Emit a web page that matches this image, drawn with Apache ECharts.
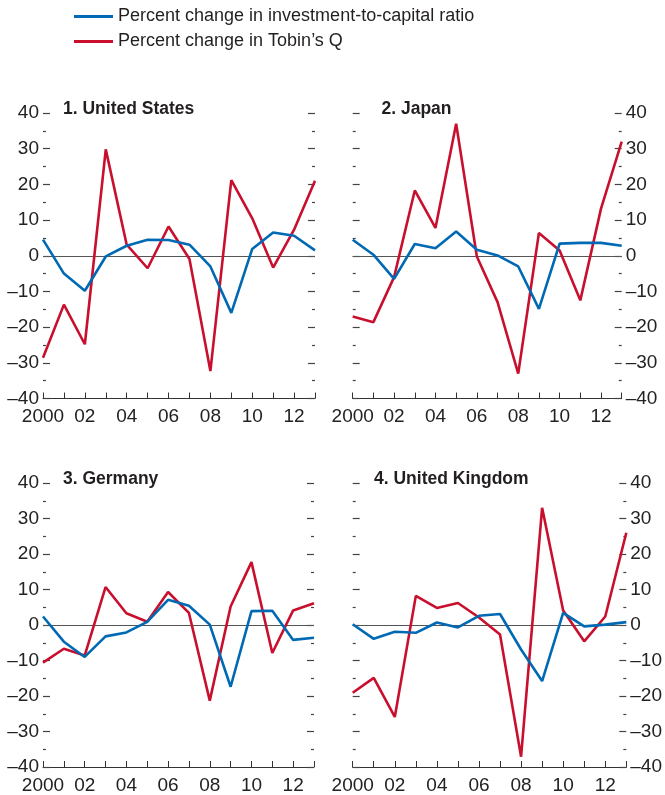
<!DOCTYPE html>
<html>
<head>
<meta charset="utf-8">
<script src="https://cdn.jsdelivr.net/npm/echarts@6/dist/echarts.min.js"></script>
<style>
html,body{margin:0;padding:0;background:#fff;}
#chart{width:665px;height:795px;}
</style>
</head>
<body>
<div id="chart"></div>
<script>
// ---- data ----
const years = [2000,2001,2002,2003,2004,2005,2006,2007,2008,2009,2010,2011,2012,2013];
const xTickLabels = {2000:'2000',2002:'02',2004:'04',2006:'06',2008:'08',2010:'10',2012:'12'};
const seriesNames = ['Percent change in investment-to-capital ratio','Percent change in Tobin\u2019s Q'];
const panelTitles = ['1. United States','2. Japan','3. Germany','4. United Kingdom'];

const usInvest = [4.5,-5,-9.8,-0.2,2.8,4.5,4.4,3.1,-3,-16,1.9,6.5,5.6,1.5];
const usTobin  = [-28.6,-13.7,-24.8,29.8,3.1,-3.5,8.2,-0.9,-32.3,21.2,10.5,-3.3,7.3,21];
const jpInvest = [4.5,0.3,-6.5,3.3,2.1,6.8,1.7,0.1,-3,-14.9,3.4,3.6,3.6,2.8];
const jpTobin  = [-17,-18.6,-6,18.3,7.8,37,-0.2,-13,-33,6.4,1.5,-12.5,13.2,32];
const deInvest = [2.4,-4.7,-9,-3.2,-2.1,0.9,7.1,5.4,0.1,-17.4,3.9,4,-4.2,-3.6];
const deTobin  = [-10.6,-6.7,-8.6,10.7,3.3,0.9,9.3,3.4,-21.3,5.2,17.7,-7.9,4.1,6.1];
const ukInvest = [0.2,-3.9,-1.9,-2.2,0.7,-0.7,2.6,3.1,-6.9,-15.8,3.4,-0.4,0.1,0.8];
const ukTobin  = [-19.1,-14.9,-25.9,8.2,4.8,6.2,2.1,-2.7,-37.1,33,4.1,-4.6,2.4,26];

const investData = [usInvest, jpInvest, deInvest, ukInvest];
const tobinData  = [usTobin, jpTobin, deTobin, ukTobin];

// ---- layout / style ----
const BLUE = '#0069b4';
const RED = '#c8102e';
const FONT = "'Liberation Sans', Arial, sans-serif";
const grids = [
  {left:43, right:350, top:113, bottom:396.5},
  {left:352.7, right:43.3, top:113, bottom:396.5},
  {left:43, right:351, top:483, bottom:25},
  {left:352.7, right:38.3, top:483, bottom:25}
];
const labelSide = ['left','right','left','right'];
const titlePos = [
  {left:63, top:100},
  {left:381.5, top:100},
  {left:63, top:470},
  {left:374, top:470}
];

const xAxes = [], yAxes = [], series = [], titles = [];
grids.forEach((g, i) => {
  xAxes.push({
    type:'category', gridIndex:i, data:years, boundaryGap:false,
    axisLine:{show:true, onZero:false, lineStyle:{color:'#333', width:1}},
    axisTick:{show:true, inside:true, length:6, interval:0, lineStyle:{color:'#333', width:1}},
    axisLabel:{interval:0, margin:9, color:'#222', fontFamily:FONT, fontSize:19,
      formatter:(v)=> xTickLabels[v] || ''},
    splitLine:{show:false}
  });
  const other = labelSide[i] === 'left' ? 'right' : 'left';
  [labelSide[i], other].forEach((pos, k) => {
    yAxes.push({
      type:'value', gridIndex:i, position:pos, min:-40, max:40, interval:10,
      axisLine:{show:false},
      axisTick:{show:true, inside:true, length:7, lineStyle:{color:'#444', width:1.2}},
      minorTick:{show:true, splitNumber:2, length:3, lineStyle:{color:'#444', width:1.2}},
      splitLine:{show:false}, minorSplitLine:{show:false},
      axisLabel:{show:k===0, margin:4, color:'#222', fontFamily:FONT, fontSize:19,
        formatter:(v)=> (v<0 ? '\u2013' + Math.abs(v) : String(v))}
    });
  });
  titles.push({
    text:panelTitles[i], left:titlePos[i].left, top:titlePos[i].top, padding:0,
    textStyle:{fontFamily:FONT, fontWeight:'bold', fontSize:17.5, color:'#231f20'}
  });
  series.push({
    name:seriesNames[1], type:'line', xAxisIndex:i, yAxisIndex:2*i,
    data:tobinData[i], showSymbol:false, symbol:'none', z:2,
    lineStyle:{color:RED, width:2.6}, itemStyle:{color:RED},
    markLine:{silent:true, z:1, symbol:['none','none'], label:{show:false},
      lineStyle:{color:'#555', width:1, type:'solid'}, data:[{yAxis:0}]}
  });
  series.push({
    name:seriesNames[0], type:'line', xAxisIndex:i, yAxisIndex:2*i,
    data:investData[i], showSymbol:false, symbol:'none', z:3,
    lineStyle:{color:BLUE, width:2.6}, itemStyle:{color:BLUE}
  });
});

const chart = echarts.init(document.getElementById('chart'), null, {renderer:'canvas'});
chart.setOption({
  animation:false,
  backgroundColor:'#fff',
  title:titles,
  legend:{
    data:seriesNames, orient:'vertical', left:74, top:7.5, padding:0,
    itemWidth:39, itemHeight:3, itemGap:7, icon:'rect',
    textStyle:{fontFamily:FONT, fontSize:18, color:'#231f20', lineHeight:18}
  },
  grid:grids,
  xAxis:xAxes,
  yAxis:yAxes,
  series:series
});
</script>
</body>
</html>
